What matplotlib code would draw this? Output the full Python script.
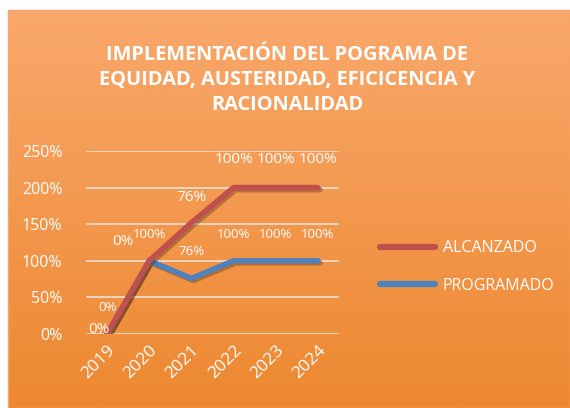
import matplotlib.pyplot as plt
import matplotlib.patheffects as pe
import numpy as np
from matplotlib.lines import Line2D
from matplotlib.patches import Rectangle

years = ["2019", "2020", "2021", "2022", "2023", "2024"]
programado = [0.0, 1.00, 0.76, 1.00, 1.00, 1.00]
alcanzado = [0.0, 0.0, 0.76, 1.00, 1.00, 1.00]
prog_labels = ["0%", "100%", "76%", "100%", "100%", "100%"]
alc_labels = ["0%", "0%", "76%", "100%", "100%", "100%"]
yticks = [0, 0.5, 1.0, 1.5, 2.0, 2.5]
title = "IMPLEMENTACIÓN DEL POGRAMA DE\nEQUIDAD, AUSTERIDAD, EFICICENCIA Y\nRACIONALIDAD"

RED = "#C0504D"
BLUE = "#4F81BD"

plt.rcParams["font.family"] = ["Open Sans", "DejaVu Sans"]

fig = plt.figure(figsize=(5.7, 4.08), dpi=100)
fig.patch.set_facecolor("white")

# full-figure axes in pixel units; orange gradient panel leaves a white strip top/left
bg = fig.add_axes([0, 0, 1, 1], zorder=-1)
bg.set_xlim(0, 570)
bg.set_ylim(408, 0)
top = np.array([249, 168, 108]) / 255
bot = np.array([237, 136, 48]) / 255
t = np.linspace(0, 1, 256)[:, None, None]
grad = top * (1 - t) + bot * t
bg.imshow(grad, aspect="auto", extent=[8, 570, 408, 10], origin="upper")
bg.add_patch(Rectangle((8, 10), 562, 398, fill=False, edgecolor="#F3A570", lw=1))
bg.set_xlim(0, 570)
bg.set_ylim(408, 0)
bg.set_axis_off()

ax = fig.add_axes([86 / 570, 74 / 408, 253 / 570, 183 / 408])
ax.patch.set_alpha(0)
x = np.arange(len(years))
stacked = np.array(programado) + np.array(alcanzado)

shadow = [pe.SimpleLineShadow(offset=(1.5, -1.5), alpha=0.25), pe.Normal()]
ax.plot(x, programado, color=BLUE, lw=4, solid_capstyle="round",
        solid_joinstyle="miter", path_effects=shadow, zorder=3)
ax.plot(x, stacked, color=RED, lw=4, solid_capstyle="round",
        solid_joinstyle="miter", path_effects=shadow, zorder=4)

for i, lab in enumerate(prog_labels):
    ax.annotate(lab, (x[i], programado[i]), xytext=(0, 19), textcoords="offset points",
                ha="center", va="center", color="white", fontsize=9.5, zorder=5)

alc_offsets = [(-6, 3), (-19, 14), (0, 18), (0, 20), (0, 20), (0, 20)]
for i, lab in enumerate(alc_labels):
    ax.annotate(lab, (x[i], stacked[i]), xytext=alc_offsets[i], textcoords="offset points",
                ha="center", va="center", color="white", fontsize=11, zorder=5)

ax.set_xlim(-0.5, len(years) - 0.5)
ax.set_ylim(0, 2.5)
ax.set_yticks(yticks)
ax.set_yticklabels([f"{int(v * 100)}%" for v in yticks])
ax.set_xticks(x)
ax.set_xticklabels(years, rotation=45, ha="right", rotation_mode="anchor")
ax.grid(axis="y", color="#E8E0D8", lw=1.2)
ax.set_axisbelow(True)
for s in ax.spines.values():
    s.set_visible(False)
ax.tick_params(axis="both", length=0, colors="white")
ax.tick_params(axis="y", pad=17, labelsize=11.5)
ax.tick_params(axis="x", pad=6, labelsize=12.5)

fig.text(287 / 570, 1 - 80 / 408, title, ha="center", va="center", color="white",
         fontsize=14.4, fontweight="bold", linespacing=1.35)

handles = [Line2D([], [], color=RED, lw=4.5, solid_capstyle="round"),
           Line2D([], [], color=BLUE, lw=4.5, solid_capstyle="round")]
leg = fig.legend(handles, ["ALCANZADO", "PROGRAMADO"], loc="center left",
                 bbox_to_anchor=(366 / 570, 1 - 267 / 408), frameon=False,
                 labelcolor="white", fontsize=11.5, handlelength=3.4,
                 labelspacing=1.35, handletextpad=0.5)

fig.savefig("out.png", dpi=100)
